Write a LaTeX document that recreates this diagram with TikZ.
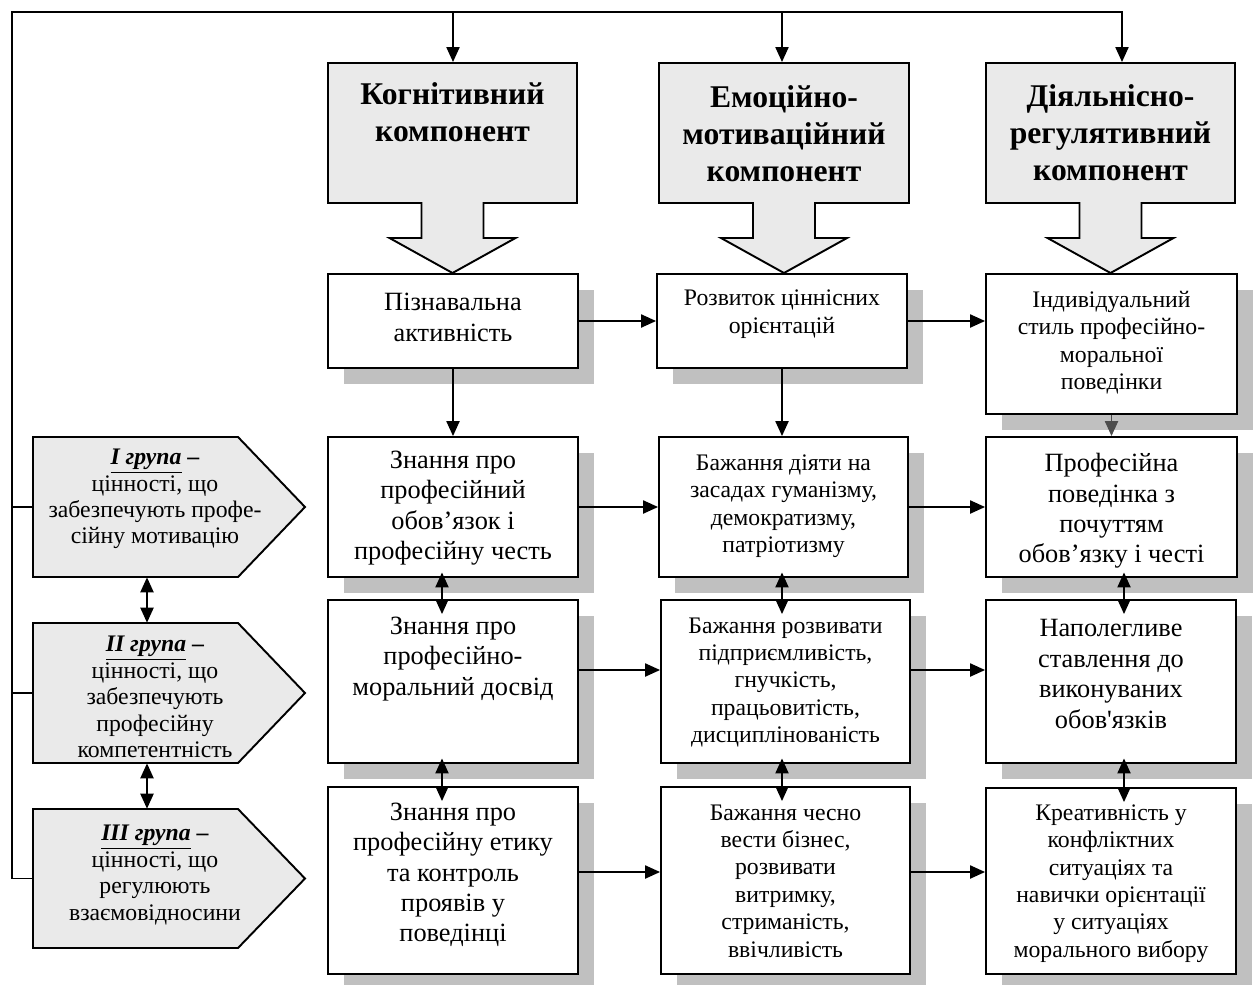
\documentclass[tikz,border=0pt]{standalone}
\usepackage{fontspec}
\setmainfont{Liberation Serif}[Ligatures=TeXOff]
\usetikzlibrary{arrows.meta,fit,shadows,calc}
\definecolor{shadowc}{RGB}{192,192,192}
\definecolor{calloutc}{RGB}{234,234,234}
\newcommand\bigtxt{\fontsize{15}{17.3}\selectfont}
\newcommand\smalltxt{\fontsize{13.5}{15.6}\selectfont}
\newcommand\grptxt{\fontsize{13.5}{15}\selectfont}
\newcommand\hdtxt{\fontsize{18}{21}\selectfont\bfseries}
\newcommand\hdshape[3]{%
  \draw[callout] (#2,63) -- (#3,63) -- (#3,203) -- ({#1+31},203) -- ({#1+31},238) -- ({#1+63},238) -- (#1,273) -- ({#1-63},238) -- ({#1-31},238) -- ({#1-31},203) -- (#2,203) -- cycle;}
\newcommand\grpshape[2]{%
  \draw[grp] (33,#1) -- (238,#1) -- (305,{(#1+#2)/2}) -- (238,#2) -- (33,#2) -- cycle;}
\begin{document}
\begin{tikzpicture}[x=0.02cm,y=-0.02cm,
  box/.style={draw,line width=1.1pt,fill=white,inner sep=0pt,
    drop shadow={shadow xshift=0.32cm,shadow yshift=-0.32cm,fill=shadowc,opacity=1}},
  ghost/.style={draw=none,inner sep=0pt},
  callout/.style={draw,line width=1.1pt,fill=calloutc},
  grp/.style={draw,line width=1.1pt,fill=calloutc},
  conn/.style={line width=0.85pt},
  arr/.style={conn,-{Triangle[length=8.5pt,width=7.5pt]}},
  darr/.style={conn,{Triangle[length=8.5pt,width=7.5pt]}-{Triangle[length=8.5pt,width=7.5pt]}},
  tL/.style={align=center,inner sep=0pt,font=\bigtxt},
  tS/.style={align=center,inner sep=0pt,font=\smalltxt},
  tG/.style={align=center,inner sep=0pt,font=\grptxt},
  tH/.style={align=center,inner sep=0pt,font=\hdtxt}]
\useasboundingbox (0,0) rectangle (1254,984);

% header callouts
\hdshape{452.5}{328}{577}
\hdshape{784}{659}{909}
\hdshape{1110.5}{986}{1235}
\node[tH] (hd1) at (452.5,112) {Когнітивний\\компонент};
\node[tH] (hd2) at (784,133.5) {Емоційно-\\мотиваційний\\компонент};
\node[tH] (hd3) at (1110.5,133) {Діяльнісно-\\регулятивний\\компонент};
\coordinate (h1in) at (453,62);
\coordinate (h2in) at (782,62);
\coordinate (h3in) at (1122,62);

% group shapes
\grpshape{437}{577}
\grpshape{623}{763}
\grpshape{809}{948}
\node[ghost,fit={(33,437)(305,577)}] (g1) {};
\node[ghost,fit={(33,623)(305,763)}] (g2) {};
\node[ghost,fit={(33,809)(305,948)}] (g3) {};
\node[tG] (g1t) at (155,499) {\underline{\textbf{\textit{I група}}}\textbf{ –}\\цінності, що\\забезпечують профе-\\сійну мотивацію};
\node[tG] (g2t) at (155,697) {\underline{\textbf{\textit{II група}}}\textbf{ –}\\цінності, що\\забезпечують\\професійну\\компетентність};
\node[tG] (g3t) at (155,875) {\underline{\textbf{\textit{III група}}}\textbf{ –}\\цінності, що\\регулюють\\взаємовідносини};

% boxes
\node[box,fit={(328,274)(578,368)}] (b11) {};
\node[box,fit={(657,274)(907,368)}] (b12) {};
\node[box,fit={(986,274)(1237,414)}] (b13) {};
\node[box,fit={(328,437)(578,577)}] (b21) {};
\node[box,fit={(659,437)(908,577)}] (b22) {};
\node[box,fit={(986,437)(1237,577)}] (b23) {};
\node[box,fit={(328,600)(578,763)}] (b31) {};
\node[box,fit={(661,600)(910,763)}] (b32) {};
\node[box,fit={(986,600)(1236,763)}] (b33) {};
\node[box,fit={(328,787)(578,974)}] (b41) {};
\node[box,fit={(661,787)(910,974)}] (b42) {};
\node[box,fit={(986,788)(1236,974)}] (b43) {};

\node[tL] (t11) at (453,317.5) {Пізнавальна\\активність};
\node[tS] (t12) at (782,314) {Розвиток ціннісних\\орієнтацій};
\node[tS] (t13) at (1111.5,342.5) {Індивідуальний\\стиль професійно-\\моральної\\поведінки};
\node[tL] (t21) at (453,508) {Знання про\\професійний\\обов’язок і\\професійну честь};
\node[tS] (t22) at (783.5,506) {Бажання діяти на\\засадах гуманізму,\\демократизму,\\патріотизму};
\node[tL] (t23) at (1111.5,511) {Професійна\\поведінка з\\почуттям\\обов’язку і честі};
\node[tL] (t31) at (453,659) {Знання про\\професійно-\\моральний досвід};
\node[tS] (t32) at (785.5,682.5) {Бажання розвивати\\підприємливість,\\гнучкість,\\працьовитість,\\дисциплінованість};
\node[tL] (t33) at (1111,674) {Наполегливе\\ставлення до\\виконуваних\\обов'язків};
\node[tL] (t41) at (453,875) {Знання про\\професійну етику\\та контроль\\проявів у\\поведінці};
\node[tS] (t42) at (785.5,881) {Бажання чесно\\вести бізнес,\\розвивати\\витримку,\\стриманість,\\ввічливість};
\node[tS] (t43) at (1111,883.5) {Креативність у\\конфліктних\\ситуаціях та\\навички орієнтації\\у ситуаціях\\морального вибору};

% bus
\coordinate (busTL) at (12,12);
\draw[arr] (g3.west) -| (busTL) -| (h3in);
\draw[arr] (busTL -| h1in) -- (h1in);
\draw[arr] (busTL -| h2in) -- (h2in);
\draw[conn] (g1.west) -- (g1.west -| busTL);
\draw[conn] (g2.west) -- (g2.west -| busTL);

% group double arrows
\coordinate (gx) at (147,0);
\draw[darr] (g1.south -| gx) -- (g2.north -| gx);
\draw[darr] (g2.south -| gx) -- (g3.north -| gx);

% row levels
\coordinate (y3) at (0,670);
\coordinate (y4) at (0,872);

% horizontal arrows
\draw[arr] (b11.east) -- (b11.east -| b12.west);
\draw[arr] (b12.east) -- (b12.east -| b13.west);
\draw[arr] (b21.east) -- (b21.east -| b22.west);
\draw[arr] (b22.east) -- (b22.east -| b23.west);
\draw[arr] (b31.east |- y3) -- (b32.west |- y3);
\draw[arr] (b32.east |- y3) -- (b33.west |- y3);
\draw[arr] (b41.east |- y4) -- (b42.west |- y4);
\draw[arr] (b42.east |- y4) -- (b43.west |- y4);

% vertical arrows row1 -> row2
\draw[arr] (b11.south) -- (b11.south |- b21.north);
\draw[arr] (b12.south) -- (b12.south |- b22.north);
\draw[arr,black!70] (b13.south) -- (b13.south |- b23.north);

% double arrows between rows
\coordinate (cx1) at (442,0);
\coordinate (cx2) at (782,0);
\coordinate (cx3) at (1124,0);
\foreach \c/\a/\b in {cx1/b21/b31, cx2/b22/b32, cx3/b23/b33, cx1/b31/b41, cx2/b32/b42, cx3/b33/b43}{
  \draw[darr] ($(\c |- \a.south)+(0,-5.5)$) -- ($(\c |- \b.north)+(0,15)$);
}
\end{tikzpicture}
\end{document}
